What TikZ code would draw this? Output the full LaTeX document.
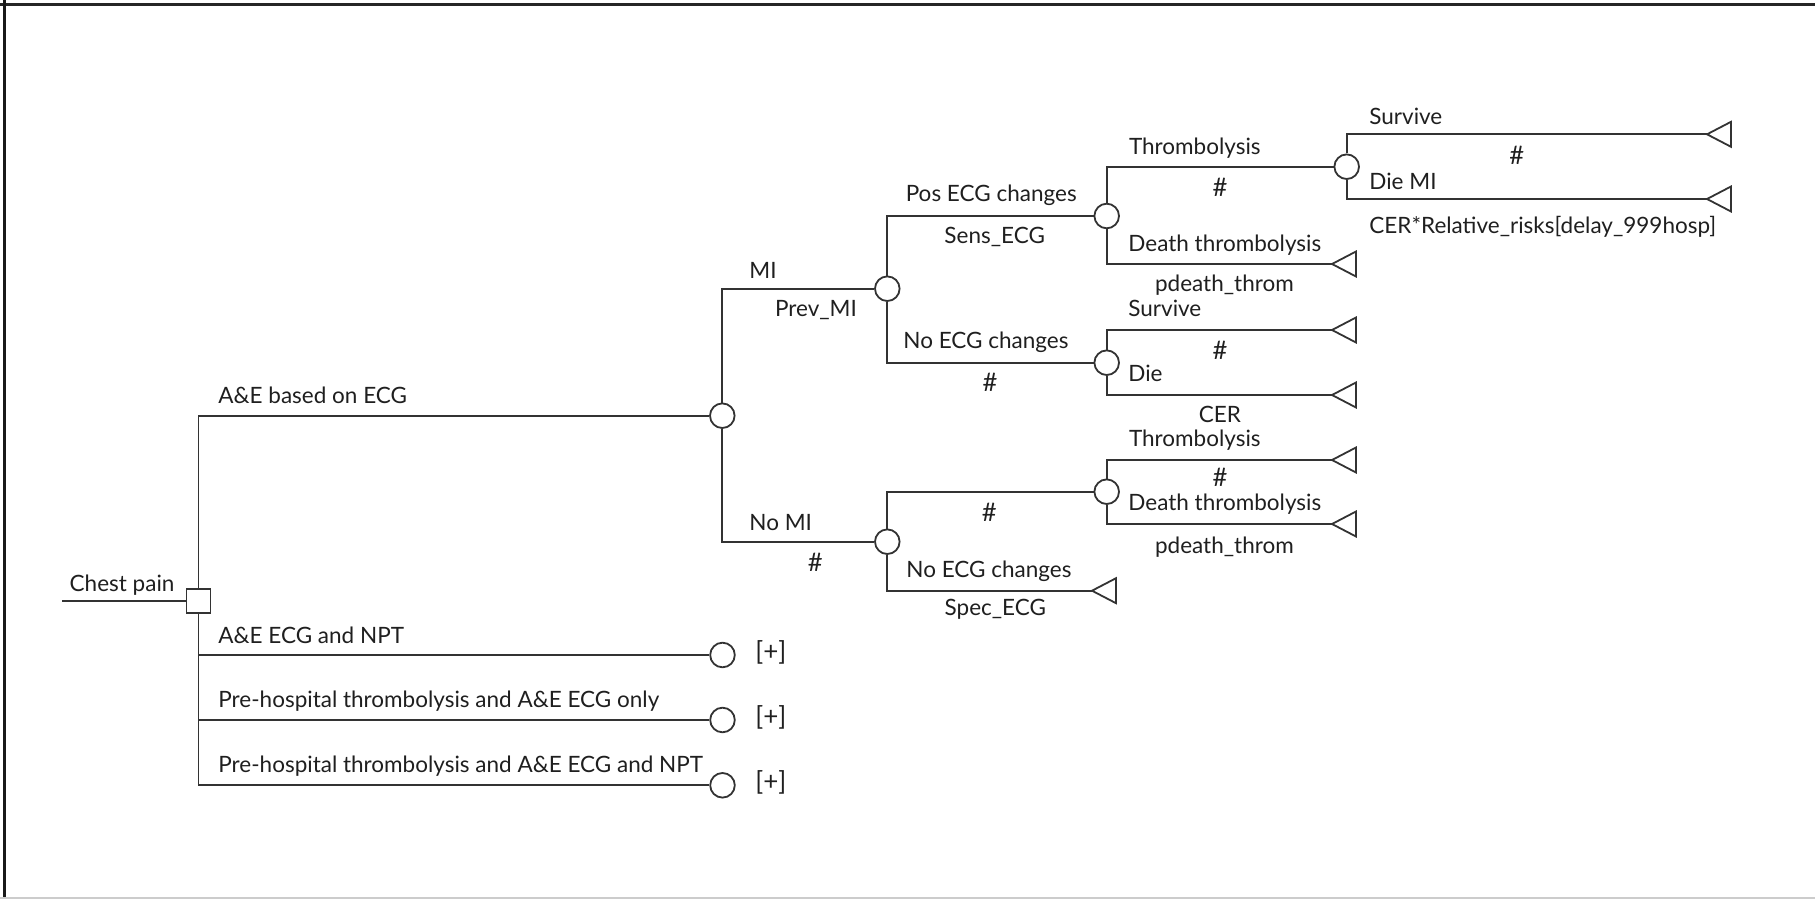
\documentclass[tikz,border=0pt]{standalone}
\usepackage{fontspec}
\setmainfont{Lato}
\begin{document}
\begin{tikzpicture}[x=0.5pt,y=-0.5pt,
  treeline/.style={draw=black!80, line width=0.9pt},
  chance/.style={circle, draw=black!80, line width=0.9pt, fill=white, inner sep=0pt, minimum size=12.3pt},
  decision/.style={rectangle, draw=black!80, line width=0.9pt, fill=white, inner sep=0pt, minimum size=12pt},
  lbl/.style={anchor=base west, inner sep=0pt, text=black!88, font=\fontsize{11.25}{13}\selectfont},
  prob/.style={anchor=base, inner sep=0pt, text=black!88, font=\fontsize{11.25}{13}\selectfont},
  hash/.style={anchor=center, inner sep=0pt, text=black!88, font=\fontsize{12.8}{15}\selectfont},
  expand/.style={anchor=west, inner sep=0pt, text=black!88, font=\fontsize{13}{15}\selectfont},
  endtri/.pic={\draw[black!80, line width=0.9pt, line join=miter] (0,0) -- (24,-12.5) -- (24,12.5) -- cycle;}
]
\useasboundingbox (0,0) rectangle (1815,899);
% frame
\draw[black!85, line width=1.1pt] (0,4.5) -- (1815,4.5);
\draw[black!90, line width=1.4pt] (4.5,0) -- (4.5,899);
\draw[black!20, line width=1pt] (0,898) -- (1815,898);

% decision and chance nodes
\node[decision] (D) at (198.5,600.7) {};
\node[chance] (A) at (722.3,415.7) {};
\node[chance] (P1) at (722.5,655) {};
\node[chance] (P2) at (722.5,720) {};
\node[chance] (P3) at (722.5,785.3) {};
\node[chance] (B) at (887.3,288.7) {};
\node[chance] (C) at (887.3,541.7) {};
\node[chance] (E) at (1106.7,216) {};
\node[chance] (F) at (1106.7,362.7) {};
\node[chance] (H) at (1106.7,491.7) {};
\node[chance] (G) at (1346.7,166.7) {};

% terminal ends
\coordinate (cp) at (62,600.7);
\coordinate (t1) at (1707,134.3);
\coordinate (t2) at (1707,199);
\coordinate (t3) at (1332,264);
\coordinate (t4) at (1332,330);
\coordinate (t5) at (1332,395);
\coordinate (t6) at (1332,460);
\coordinate (t7) at (1332,524);
\coordinate (t8) at (1092,590.7);

% branches
\draw[treeline] (cp) -- (D.west);
\draw[treeline] (D.north) |- (A.west);
\draw[treeline] (D.south) |- (P1.west);
\draw[treeline] (D.south) |- (P2.west);
\draw[treeline] (D.south) |- (P3.west);
\draw[treeline] (A.north) |- (B.west);
\draw[treeline] (A.south) |- (C.west);
\draw[treeline] (B.north) |- (E.west);
\draw[treeline] (B.south) |- (F.west);
\draw[treeline] (C.north) |- (H.west);
\draw[treeline] (C.south) |- (t8);
\draw[treeline] (E.north) |- (G.west);
\draw[treeline] (E.south) |- (t3);
\draw[treeline] (G.north) |- (t1);
\draw[treeline] (G.south) |- (t2);
\draw[treeline] (F.north) |- (t4);
\draw[treeline] (F.south) |- (t5);
\draw[treeline] (H.north) |- (t6);
\draw[treeline] (H.south) |- (t7);
\foreach \t in {t1,t2,t3,t4,t5,t6,t7,t8} \pic at (\t) {endtri};

% branch names
\node[lbl] (l0) at (69.3,591.5) {Chest pain};
\node[lbl] (l1) at (218,403.3) {A\&E based on ECG};
\node[lbl] (l2) at (218,643.3) {A\&E ECG and NPT};
\node[lbl] (l3) at (218,707.5) {Pre-hospital thrombolysis and A\&E ECG only};
\node[lbl] (l4) at (218,772.7) {Pre-hospital thrombolysis and A\&E ECG and NPT};
\node[lbl] (l5) at (749,278.3) {MI};
\node[lbl] (l6) at (749,530) {No MI};
\node[lbl] (l7) at (905.4,201.7) {Pos ECG changes};
\node[lbl] (l8) at (903,348.3) {No ECG changes};
\node[lbl] (l9) at (906,577.5) {No ECG changes};
\node[lbl] (l10) at (1128.6,155) {Thrombolysis};
\node[lbl] (l11) at (1128,251.7) {Death thrombolysis};
\node[lbl] (l12) at (1128,316.7) {Survive};
\node[lbl] (l13) at (1128,381.7) {Die};
\node[lbl] (l14) at (1128.6,446.7) {Thrombolysis};
\node[lbl] (l15) at (1128,510) {Death thrombolysis};
\node[lbl] (l16) at (1369,124.5) {Survive};
\node[lbl] (l17) at (1369,190) {Die MI};

% probabilities
\node[prob] (p1) at (816,316.7) {Prev\_MI};
\node[hash] (p2) at (815.2,562.5) {\#};
\node[prob] (p3) at (994.7,243.3) {Sens\_ECG};
\node[hash] (p4) at (990,382.5) {\#};
\node[hash] (p5) at (989.3,512.8) {\#};
\node[prob] (p6) at (995.3,615) {Spec\_ECG};
\node[hash] (p7) at (1220,187.5) {\#};
\node[prob] (p8) at (1224.4,291.7) {pdeath\_throm};
\node[hash] (p9) at (1220,350.8) {\#};
\node[prob] (p10) at (1220,422.7) {CER};
\node[hash] (p11) at (1220,477.5) {\#};
\node[prob] (p12) at (1224.4,553.3) {pdeath\_throm};
\node[hash] (p13) at (1516.7,155) {\#};
\node[lbl] (p14) at (1369,233.3) {CER*Relative\_risks[delay\_999hosp]};

% collapsed subtrees
\node[expand] (c1) at (755,652.5) {[+]};
\node[expand] (c2) at (755,717.5) {[+]};
\node[expand] (c3) at (755,782.8) {[+]};
\end{tikzpicture}
\end{document}
